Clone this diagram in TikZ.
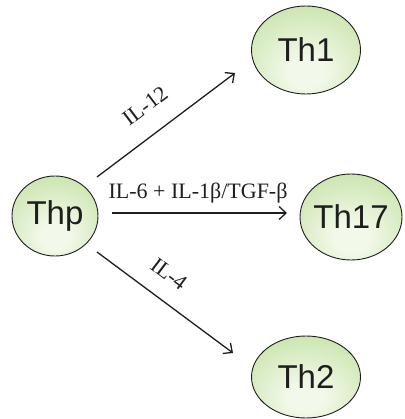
\documentclass[tikz,border=0pt]{standalone}
\usepackage{fontspec}
\setmainfont{Liberation Serif}
\newfontfamily\cellfont{Liberation Sans}
\usetikzlibrary{arrows.meta,shapes.geometric}
\definecolor{cellin}{HTML}{F3F9EA}
\definecolor{cellout}{HTML}{AFD786}
\definecolor{ink}{HTML}{1E1E1E}
\pgfdeclareradialshading{cellshade}{\pgfpoint{0bp}{-14bp}}{color(0bp)=(cellin); color(8bp)=(cellin); color(52bp)=(cellout); color(80bp)=(cellout)}
\tikzset{
  cell/.style={ellipse, draw=ink, line width=0.9pt, shading=cellshade,
    inner xsep=-8pt, inner ysep=0pt, text=ink, font=\cellfont\fontsize{33}{33}\selectfont},
  arr/.style={draw=ink, line width=1.3pt, -{Straight Barb[length=7pt,width=13pt,line width=1.3pt]}},
  lbl/.style={font=\fontsize{22}{22}\selectfont, text=ink, inner sep=0pt}
}
\begin{document}
\begin{tikzpicture}[x=1pt,y=-1pt]
\useasboundingbox (0,0) rectangle (404,419);
\node[cell, minimum width=86pt, minimum height=80pt] (Thp) at (55,216) {Thp};
\node[cell, minimum width=109pt, minimum height=88pt] (Th1) at (306,50) {Th1};
\node[cell, minimum width=102pt, minimum height=86pt] (Th17) at (351,217) {Th17};
\node[cell, minimum width=109pt, minimum height=82pt] (Th2) at (306,377) {Th2};
\draw[arr] ([shift={(42,-39)}]Thp.center) -- ([shift={(-71,23)}]Th1.center);
\draw[arr] ([shift={(57,-3)}]Thp.center) -- ([shift={(-64,-4)}]Th17.center);
\draw[arr] ([shift={(42,36)}]Thp.center) -- ([shift={(-73,-24)}]Th2.center);
\node[lbl, rotate=37] (l12) at (145,106) {IL-12};
\node[lbl] (l17) at (198,193) {IL-6 + IL-1β/TGF-β};
\node[lbl, rotate=-37] (l4) at (169,274) {IL-4};
\end{tikzpicture}
\end{document}
